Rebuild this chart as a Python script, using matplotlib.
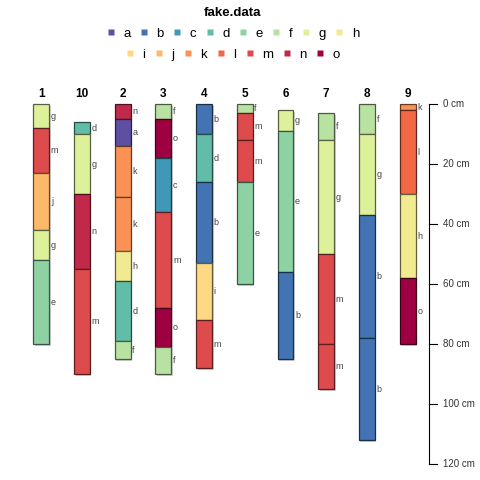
import matplotlib
matplotlib.use('Agg')
import matplotlib.pyplot as plt
from matplotlib.colors import LinearSegmentedColormap, to_rgb
from matplotlib.patches import Rectangle
from matplotlib.lines import Line2D

plt.rcParams['font.family'] = ['Liberation Sans', 'DejaVu Sans']

# Profiles in plotting order
profile_ids = ['1', '10', '2', '3', '4', '5', '6', '7', '8', '9']

# Horizons (flat lists): profile, top (cm), bottom (cm), fake.data level
hz_profile = ['1', '1', '1', '1', '1',
              '10', '10', '10', '10',
              '2', '2', '2', '2', '2', '2', '2',
              '3', '3', '3', '3', '3', '3',
              '4', '4', '4', '4', '4',
              '5', '5', '5', '5',
              '6', '6', '6',
              '7', '7', '7', '7',
              '8', '8', '8', '8',
              '9', '9', '9', '9']
hz_top = [0, 8, 23, 42, 52,
          6, 10, 30, 55,
          0, 5, 14, 31, 49, 59, 79,
          0, 5, 18, 36, 68, 81,
          0, 10, 26, 53, 72,
          0, 3, 12, 26,
          2, 9, 56,
          3, 12, 50, 80,
          0, 10, 37, 78,
          0, 2, 30, 58]
hz_bottom = [8, 23, 42, 52, 80,
             10, 30, 55, 90,
             5, 14, 31, 49, 59, 79, 85,
             5, 18, 36, 68, 81, 90,
             10, 26, 53, 72, 88,
             3, 12, 26, 60,
             9, 56, 85,
             12, 50, 80, 95,
             10, 37, 78, 112,
             2, 30, 58, 80]
hz_name = ['g', 'm', 'j', 'g', 'e',
           'd', 'g', 'n', 'm',
           'n', 'a', 'k', 'k', 'h', 'd', 'f',
           'f', 'o', 'c', 'm', 'o', 'f',
           'b', 'd', 'b', 'i', 'm',
           'f', 'm', 'm', 'e',
           'g', 'e', 'b',
           'f', 'g', 'm', 'm',
           'f', 'g', 'b', 'b',
           'k', 'l', 'h', 'o']

legend_levels = list('abcdefghijklmno')
depth_ticks = [0, 20, 40, 60, 80, 100, 120]

# Spectral ramp (no white centre), interpolated to 15 levels
palette = ["#5E4FA2", "#3288BD", "#66C2A5", "#ABDDA4", "#E6F598",
           "#FEE08B", "#FDAE61", "#F46D43", "#D53E4F", "#9E0142"]
cmap = LinearSegmentedColormap.from_list('spec', palette)
level_colors = {lv: cmap(i / (len(legend_levels) - 1)) for i, lv in enumerate(legend_levels)}


def darker(c, f=0.4):
    r, g, b = to_rgb(c)
    return (r * f, g * f, b * f)


fig = plt.figure(figsize=(4.8, 4.8), dpi=100)
ax = fig.add_axes([0, 0, 1, 1])
ax.set_xlim(-0.0147, 11.779)
ax.set_ylim(125.33, -34.67)
ax.axis('off')

width = 0.39
px_x = 1 / 40.7
px_y = 1 / 3.0

# profile shadows + names
for i, pid in enumerate(profile_ids):
    x = i + 1
    tops = [t for p, t in zip(hz_profile, hz_top) if p == pid]
    bots = [b for p, b in zip(hz_profile, hz_bottom) if p == pid]
    ax.add_patch(Rectangle((x - width / 2 + 1.5 * px_x, min(tops) + 1.5 * px_y), width,
                           max(bots) - min(tops), facecolor='#d0d0d0', edgecolor='none', zorder=1))
    ax.text(x, -3.4, pid, ha='center', va='center', fontsize=8.5, fontweight='bold')

# horizons
for pid, top, bot, name in zip(hz_profile, hz_top, hz_bottom, hz_name):
    x = profile_ids.index(pid) + 1
    col = level_colors[name]
    ax.add_patch(Rectangle((x - width / 2, top), width, bot - top, facecolor=col,
                           edgecolor=darker(col), linewidth=0.9, zorder=2))
    ax.text(x + width / 2 + 0.04, (top + bot) / 2, name, ha='left', va='center',
            fontsize=6.5, color='#444444', zorder=3)

# depth axis
ax_x = 10.533
tick_end = 10.715
ax.plot([ax_x, ax_x], [depth_ticks[0], depth_ticks[-1]], color='black', linewidth=0.8)
for d in depth_ticks:
    ax.plot([ax_x, tick_end], [d, d], color='black', linewidth=0.8)
    ax.text(10.87, d, f'{d} cm', ha='left', va='center', fontsize=7, color='#333333')

# legend: title + two rows
fig.text(0.484, 1 - 13 / 480, 'fake.data', ha='center', va='center',
         fontsize=9.5, fontweight='bold')
handles = [Line2D([], [], marker='s', linestyle='', markersize=5,
                  markerfacecolor=level_colors[lv], markeredgecolor='none') for lv in legend_levels]
fig.legend(handles[:8], legend_levels[:8], ncol=8, loc='center',
           bbox_to_anchor=(0.484, 1 - 34 / 480), frameon=False, fontsize=9.5,
           handlelength=0.8, handletextpad=0.55, columnspacing=0.62, borderpad=0)
fig.legend(handles[8:], legend_levels[8:], ncol=7, loc='center',
           bbox_to_anchor=(0.484, 1 - 55 / 480), frameon=False, fontsize=9.5,
           handlelength=0.8, handletextpad=0.55, columnspacing=0.62, borderpad=0)

fig.savefig('out.png', dpi=100)
